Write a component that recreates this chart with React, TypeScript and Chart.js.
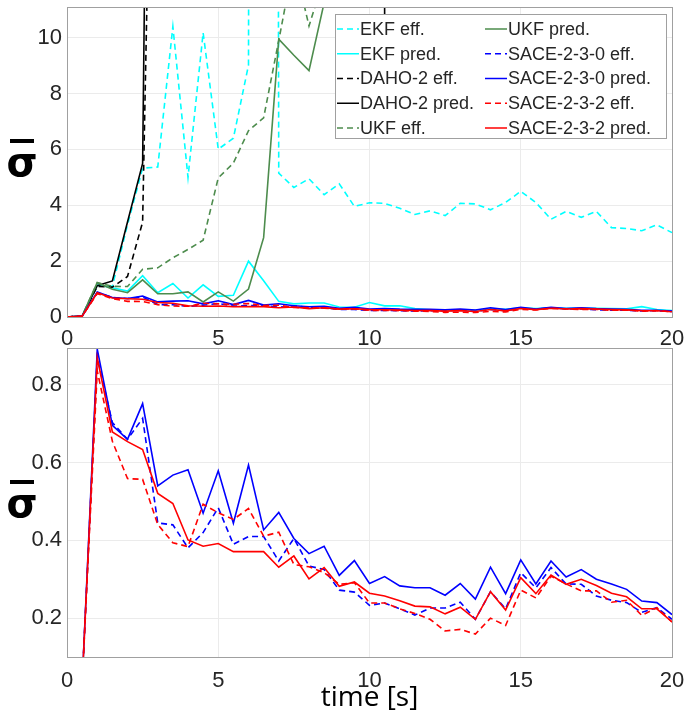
import React, { useEffect, useRef } from "react";
import { Chart, registerables } from "chart.js";

Chart.register(...registerables);

// ---------------- data ----------------
const TIME = [0, 0.5, 1, 1.5, 2, 2.5, 3, 3.5, 4, 4.5, 5, 5.5, 6, 6.5, 7, 7.5, 8, 8.5, 9, 9.5, 10, 10.5, 11, 11.5, 12, 12.5, 13, 13.5, 14, 14.5, 15, 15.5, 16, 16.5, 17, 17.5, 18, 18.5, 19, 19.5, 20];

const X_TICKS = [0, 5, 10, 15, 20];
const TOP_Y_TICKS = [0, 2, 4, 6, 8, 10];
const BOTTOM_Y_TICKS = [0.2, 0.4, 0.6, 0.8];

const SERIES_LABELS = [
  "EKF eff.",
  "EKF pred.",
  "DAHO-2 eff.",
  "DAHO-2 pred.",
  "UKF eff.",
  "UKF pred.",
  "SACE-2-3-0 eff.",
  "SACE-2-3-0 pred.",
  "SACE-2-3-2 eff.",
  "SACE-2-3-2 pred.",
];

const EKF_EFF = [
  0, 0.03, 1.12, 1.1, 3.3, 5.33, 5.37, 10.4, 5.0, 10.18,
  6.01, 6.4, 9.02, 300, 5.15, 4.64, 4.95, 4.38, 4.77, 3.96,
  4.09, 4.07, 3.89, 3.67, 3.8, 3.63, 4.07, 4.05, 3.84, 4.1,
  4.5, 4.1, 3.5, 3.78, 3.57, 3.78, 3.2, 3.17, 3.09, 3.3,
  3.02,
];
const EKF_PRED = [
  0, 0.03, 1.15, 1.05, 0.93, 1.48, 0.87, 1.2, 0.68, 1.15,
  0.74, 0.78, 2.0, 1.3, 0.56, 0.47, 0.5, 0.5, 0.36, 0.35,
  0.52, 0.4, 0.4, 0.3, 0.26, 0.24, 0.24, 0.24, 0.3, 0.28,
  0.33, 0.3, 0.33, 0.31, 0.32, 0.31, 0.3, 0.29, 0.37, 0.27,
  0.23,
];
const DAHO_EFF = [
  0, 0.03, 1.1, 1.07, 1.45, 3.4, 31, 120, 260, 420,
  600, 800, 1000, 1300, 1600, 1900, 2300, 2700, 3100, 3600,
  4100, 4600, 5200, 5800, 6400, 7000, 7700, 8400, 9100, 9900,
  10700, 11500, 12400, 13300, 14200, 15200, 16200, 17200, 18300, 19400,
  20500,
];
const DAHO_PRED = [
  0, 0.03, 1.12, 1.29, 3.4, 5.5, 55, 200, 400, 650,
  900, 1200, 1500, 1900, 2300, 2800, 3300, 3900, 4500, 5200,
  6000, 10.75, 7000, 7600, 8300, 9000, 9800, 10600, 11500, 12400,
  13400, 14400, 15500, 16600, 17800, 19000, 20300, 21600, 23000, 24500,
  26000,
];
const UKF_EFF = [
  0, 0.03, 1.23, 1.1, 1.09, 1.71, 1.76, 2.12, 2.42, 2.75,
  4.98, 5.51, 6.67, 7.13, 9.9, 12.75, 10.42, 12.15, 15, 18,
  21, 24, 27, 30, 34, 38, 42, 46, 50, 55,
  60, 65, 70, 75, 80, 86, 92, 98, 104, 110,
  116,
];
const UKF_PRED = [
  0, 0.03, 1.23, 0.99, 0.87, 1.33, 0.83, 0.83, 0.9, 0.54,
  0.9, 0.57, 1.0, 2.84, 9.95, 9.37, 8.82, 11.25, 14, 17,
  20, 24, 28, 32, 36, 40, 45, 50, 55, 60,
  65, 70, 76, 82, 88, 94, 100, 107, 114, 121,
  128,
];
const SACE0_EFF = [
  0, 0.03, 0.87, 0.703, 0.66, 0.714, 0.445, 0.44, 0.381, 0.42,
  0.484, 0.39, 0.41, 0.41, 0.347, 0.405, 0.334, 0.325, 0.272, 0.267,
  0.233, 0.239, 0.224, 0.208, 0.226, 0.226, 0.241, 0.197, 0.268, 0.224,
  0.317, 0.278, 0.33, 0.288, 0.287, 0.257, 0.246, 0.24, 0.215, 0.227,
  0.197,
];
const SACE0_PRED = [
  0, 0.03, 0.892, 0.696, 0.66, 0.752, 0.54, 0.568, 0.582, 0.47,
  0.579, 0.444, 0.594, 0.427, 0.472, 0.405, 0.366, 0.385, 0.31, 0.348,
  0.289, 0.307, 0.283, 0.278, 0.278, 0.259, 0.289, 0.249, 0.331, 0.263,
  0.35, 0.288, 0.347, 0.306, 0.325, 0.3, 0.288, 0.274, 0.244, 0.24,
  0.209,
];
const SACE2_EFF = [
  0, 0.03, 0.836, 0.655, 0.559, 0.557, 0.441, 0.394, 0.384, 0.493,
  0.471, 0.454, 0.482, 0.411, 0.421, 0.338, 0.332, 0.317, 0.287, 0.291,
  0.239, 0.239, 0.224, 0.212, 0.197, 0.167, 0.171, 0.159, 0.2, 0.181,
  0.272, 0.252, 0.308, 0.288, 0.27, 0.27, 0.241, 0.246, 0.207, 0.227,
  0.19,
];
const SACE2_PRED = [
  0, 0.03, 0.87, 0.679, 0.654, 0.634, 0.521, 0.495, 0.401, 0.385,
  0.392, 0.371, 0.371, 0.371, 0.331, 0.36, 0.301, 0.33, 0.282, 0.293,
  0.264, 0.257, 0.245, 0.231, 0.229, 0.211, 0.228, 0.197, 0.268, 0.221,
  0.304, 0.263, 0.311, 0.287, 0.3, 0.284, 0.264, 0.255, 0.224, 0.224,
  0.19,
];

const ALL_SERIES = [EKF_EFF, EKF_PRED, DAHO_EFF, DAHO_PRED, UKF_EFF, UKF_PRED, SACE0_EFF, SACE0_PRED, SACE2_EFF, SACE2_PRED];

// ---------------- styles ----------------
const TEXT = "#262626";
const FONT = "'Liberation Sans', Arial, sans-serif";
const DASH = [6, 4];
const STYLES = [
  { color: "#00ffff", dash: DASH },
  { color: "#00ffff", dash: [] as number[] },
  { color: "#000000", dash: DASH },
  { color: "#000000", dash: [] as number[] },
  { color: "#4d8c4d", dash: DASH },
  { color: "#4d8c4d", dash: [] as number[] },
  { color: "#0000ff", dash: DASH },
  { color: "#0000ff", dash: [] as number[] },
  { color: "#ff0000", dash: DASH },
  { color: "#ff0000", dash: [] as number[] },
];

function makeDataset(i: number) {
  const st = STYLES[i];
  const values = ALL_SERIES[i];
  return {
    label: SERIES_LABELS[i],
    data: TIME.map((t, k) => ({ x: t, y: values[k] })),
    borderColor: st.color,
    backgroundColor: st.color,
    borderDash: st.dash,
    borderWidth: 1.6,
    pointRadius: 0,
    pointHoverRadius: 0,
    tension: 0,
    fill: false,
    order: 20 - i,
  };
}

const framePlugin = {
  id: "frame",
  afterDatasetsDraw(chart: any) {
    const { ctx, chartArea } = chart;
    ctx.save();
    ctx.strokeStyle = "#a0a0a0";
    ctx.lineWidth = 1;
    ctx.setLineDash([]);
    ctx.strokeRect(
      Math.round(chartArea.left) + 0.5,
      Math.round(chartArea.top) + 0.5,
      Math.round(chartArea.right - chartArea.left),
      Math.round(chartArea.bottom - chartArea.top)
    );
    ctx.restore();
  },
};

const sigmaPlugin = {
  id: "sigmaLabel",
  afterDraw(chart: any) {
    const { ctx, chartArea } = chart;
    const cy = Math.round((chartArea.top + chartArea.bottom) / 2);
    ctx.save();
    ctx.fillStyle = "#000";
    ctx.font = "bold 40px 'DejaVu Sans', sans-serif";
    ctx.textAlign = "center";
    ctx.textBaseline = "alphabetic";
    ctx.fillText("σ", 22, cy + 14);
    ctx.fillRect(10, cy - 23, 24, 4);
    ctx.restore();
  },
};

const legendPlugin = {
  id: "matlabLegend",
  afterDraw(chart: any) {
    const { ctx, chartArea } = chart;
    const boxR = chartArea.right - 6;
    const boxL = boxR - 331;
    const boxT = chartArea.top + 7;
    const boxH = 124;
    ctx.save();
    ctx.fillStyle = "#ffffff";
    ctx.fillRect(boxL, boxT, 331, boxH);
    ctx.strokeStyle = "#a0a0a0";
    ctx.lineWidth = 1;
    ctx.setLineDash([]);
    ctx.strokeRect(Math.round(boxL) + 0.5, Math.round(boxT) + 0.5, 331, boxH);
    ctx.font = `18px ${FONT}`;
    ctx.textBaseline = "middle";
    ctx.textAlign = "left";
    chart.data.datasets.forEach((ds: any, i: number) => {
      const col = i < 5 ? 0 : 1;
      const row = i % 5;
      const x0 = boxL + 2 + col * 148;
      const y = boxT + 15 + row * 24.75;
      ctx.strokeStyle = ds.borderColor;
      ctx.lineWidth = 1.5;
      ctx.setLineDash(ds.borderDash);
      ctx.beginPath();
      ctx.moveTo(x0, y);
      ctx.lineTo(x0 + 22, y);
      ctx.stroke();
      ctx.setLineDash([]);
      ctx.fillStyle = TEXT;
      ctx.fillText(ds.label, x0 + 23, y + 1);
    });
    ctx.restore();
  },
};

function makeConfig(which: "top" | "bottom"): any {
  const isTop = which === "top";
  const datasets = isTop
    ? SERIES_LABELS.map((_, i) => makeDataset(i))
    : [6, 7, 8, 9].map((i) => makeDataset(i));
  const yTicks = isTop ? TOP_Y_TICKS : BOTTOM_Y_TICKS;
  const xHeight = isTop ? 28 : 55;
  return {
    type: "line",
    data: { datasets },
    options: {
      animation: false,
      responsive: false,
      maintainAspectRatio: false,
      events: [],
      layout: {
        padding: isTop
          ? { left: 0, right: 14, top: 7, bottom: 367 }
          : { left: 0, right: 14, top: 348, bottom: 0 },
      },
      plugins: {
        legend: { display: false },
        tooltip: { enabled: false },
      },
      scales: {
        x: {
          type: "linear",
          min: 0,
          max: 20,
          afterBuildTicks: (s: any) => {
            s.ticks = X_TICKS.map((v) => ({ value: v }));
          },
          afterFit: (s: any) => {
            s.height = xHeight;
            s.paddingLeft = 0;
            s.paddingRight = 0;
          },
          grid: { color: "#ebebeb", lineWidth: 1, drawTicks: false },
          border: { display: false },
          ticks: {
            font: { family: FONT, size: 22 },
            color: TEXT,
            padding: isTop ? 9 : 11,
            maxRotation: 0,
            autoSkip: false,
            callback: (v: number) => String(v),
          },
          title: isTop
            ? { display: false }
            : {
                display: true,
                text: "time [s]",
                color: "#000",
                font: { family: "'Open Sans', sans-serif", size: 28, lineHeight: 1 },
                padding: { top: 0, bottom: 0 },
              },
        },
        y: {
          type: "linear",
          min: isTop ? 0 : 0.1,
          max: isTop ? 11.1 : 0.895,
          afterBuildTicks: (s: any) => {
            s.ticks = yTicks.map((v) => ({ value: v }));
          },
          afterFit: (s: any) => {
            s.width = 67;
            s.paddingTop = 0;
            s.paddingBottom = 0;
          },
          grid: { color: "#ebebeb", lineWidth: 1, drawTicks: false },
          border: { display: false },
          ticks: {
            font: { family: FONT, size: 22 },
            color: TEXT,
            padding: 5,
            autoSkip: false,
            callback: (v: number) => String(v),
          },
        },
      },
    },
    plugins: isTop ? [framePlugin, sigmaPlugin, legendPlugin] : [framePlugin, sigmaPlugin],
  };
}

export default function App() {
  const topRef = useRef<HTMLCanvasElement>(null);
  const botRef = useRef<HTMLCanvasElement>(null);

  useEffect(() => {
    const bottom = new Chart(botRef.current as HTMLCanvasElement, makeConfig("bottom"));
    const top = new Chart(topRef.current as HTMLCanvasElement, makeConfig("top"));
    return () => {
      top.destroy();
      bottom.destroy();
    };
  }, []);

  const canvasStyle: React.CSSProperties = {
    position: "absolute",
    left: 0,
    top: 0,
    width: 686,
    height: 712,
  };

  return (
    <div style={{ position: "fixed", left: 0, top: 0, width: 686, height: 712, background: "#fff" }}>
      <canvas ref={botRef} width={686} height={712} style={canvasStyle} />
      <canvas ref={topRef} width={686} height={712} style={canvasStyle} />
    </div>
  );
}
